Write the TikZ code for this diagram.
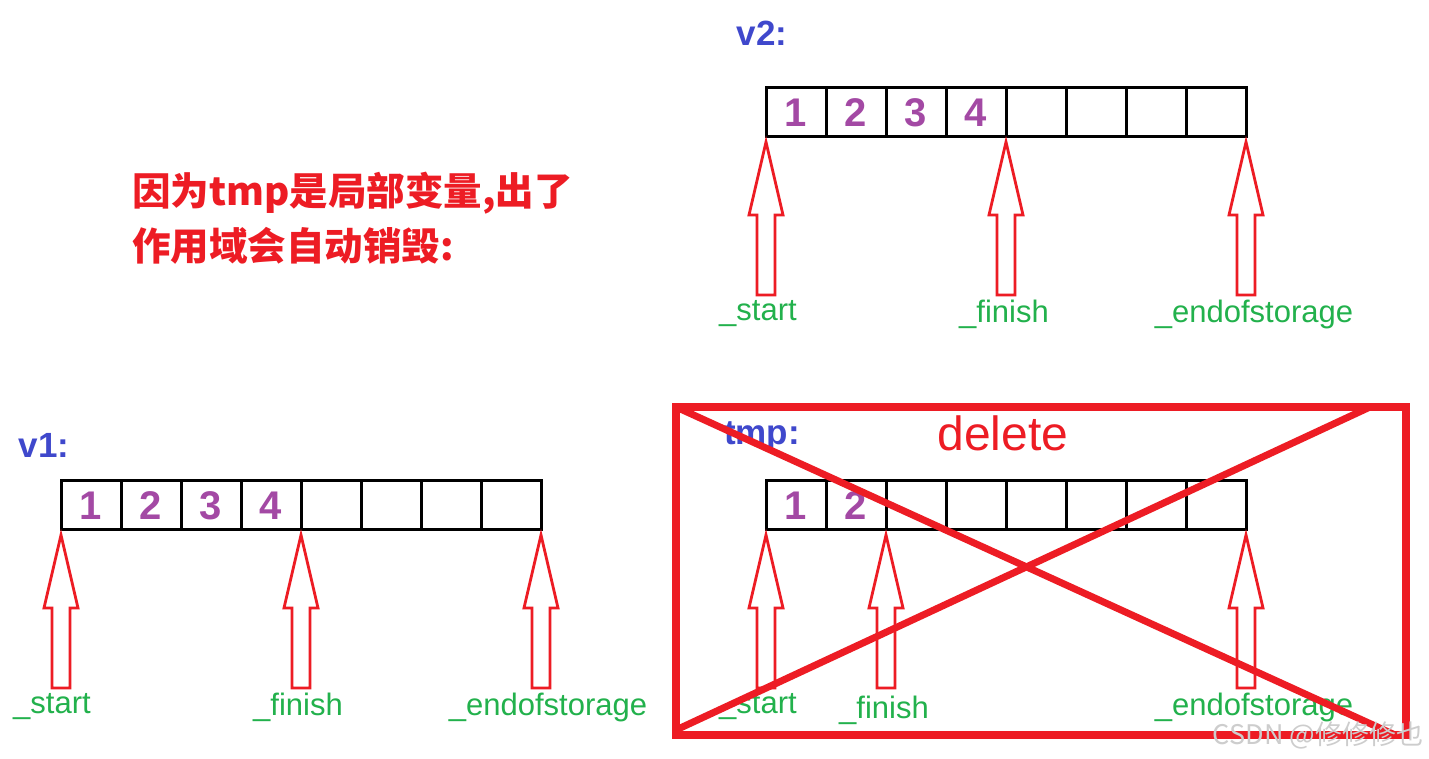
\documentclass[tikz,border=0pt]{standalone}
\usepackage{fontspec}
\setmainfont{Liberation Sans}
\newfontfamily\cjkfont{Noto Sans CJK SC}
\newcommand\ptrarrow[1]{\draw[ptr,shift={#1}] (0,-5) -- (17,-78) -- (9,-78) -- (9,-158) -- (-9,-158) -- (-9,-78) -- (-17,-78) -- cycle;}

\begin{document}
\begin{tikzpicture}[x=1pt,y=1pt]
\definecolor{fillColor}{RGB}{255,255,255}
\definecolor{boxRed}{RGB}{237,28,36}
\definecolor{nameBlue}{RGB}{63,72,204}
\definecolor{ptrGreen}{RGB}{34,177,76}
\definecolor{valPurple}{RGB}{163,73,164}
\definecolor{markGray}{RGB}{205,205,205}
\tikzset{
  cell/.style={draw=black,line width=3pt,minimum width=60pt,minimum height=49pt,inner sep=0pt,outer sep=0pt,text=valPurple,font=\bfseries\fontsize{40}{40}\selectfont},
  ptr/.style={draw=boxRed,line width=2.8pt,line join=miter},
  ptrname/.style={text=ptrGreen,inner sep=0pt,font=\fontsize{31}{31}\selectfont},
  vecname/.style={text=nameBlue,inner sep=0pt,font=\bfseries\fontsize{35}{35}\selectfont},
}
\path[use as bounding box,fill=fillColor] (0,0) rectangle (1429,759);

% note
\node[anchor=west,text=boxRed,inner sep=0pt,font=\cjkfont\bfseries\fontsize{38.5}{38.5}\selectfont] (note1) at (132,566) {因为tmp是局部变量,出了};
\node[anchor=west,text=boxRed,inner sep=0pt,font=\cjkfont\bfseries\fontsize{38.5}{38.5}\selectfont] (note2) at (132,513) {作用域会自动销毁:};

% v2
\node[vecname] (v2name) at (762,726) {v2:};
\foreach \i/\v in {1/1,2/2,3/3,4/4,5/,6/,7/,8/}
  \node[cell] (v2c\i) at (736+60*\i,646.5) {\v};
\ptrarrow{(v2c1.south west)}
\ptrarrow{(v2c4.south east)}
\ptrarrow{(v2c8.south east)}
\node[ptrname] (v2start) at (758,445) {\_start};
\node[ptrname] (v2finish) at (1004,445) {\_finish};
\node[ptrname] (v2end) at (1254,445) {\_endofstorage};

% v1
\node[vecname] (v1name) at (44,314) {v1:};
\foreach \i/\v in {1/1,2/2,3/3,4/4,5/,6/,7/,8/}
  \node[cell] (v1c\i) at (31+60*\i,253.5) {\v};
\ptrarrow{(v1c1.south west)}
\ptrarrow{(v1c4.south east)}
\ptrarrow{(v1c8.south east)}
\node[ptrname] (v1start) at (52,52) {\_start};
\node[ptrname] (v1finish) at (298,52) {\_finish};
\node[ptrname] (v1end) at (548,52) {\_endofstorage};

% tmp
\node[vecname] (tmpname) at (762,322) {tmp:};
\node[text=boxRed,inner sep=0pt,font=\fontsize{48}{48}\selectfont] (deltext) at (1003,326) {delete};
\foreach \i/\v in {1/1,2/2,3/,4/,5/,6/,7/,8/}
  \node[cell] (tmpc\i) at (736+60*\i,253.5) {\v};
\ptrarrow{(tmpc1.south west)}
\ptrarrow{(tmpc2.south east)}
\ptrarrow{(tmpc8.south east)}
\node[ptrname] (tmpstart) at (758,52) {\_start};
\node[ptrname] (tmpfinish) at (884,49) {\_finish};
\node[ptrname] (tmpend) at (1254,52) {\_endofstorage};

% cross out
\draw[boxRed,line width=8pt] (676,24) rectangle (1406,352);
\draw[boxRed,line width=7pt] (676,352) -- (1395,24);
\draw[boxRed,line width=7pt] (676,29) -- (1370,352);

\node[text=markGray,inner sep=0pt,font=\cjkfont\fontsize{27}{27}\selectfont] (mark) at (1318,24) {CSDN @修修修也};
\end{tikzpicture}
\end{document}
